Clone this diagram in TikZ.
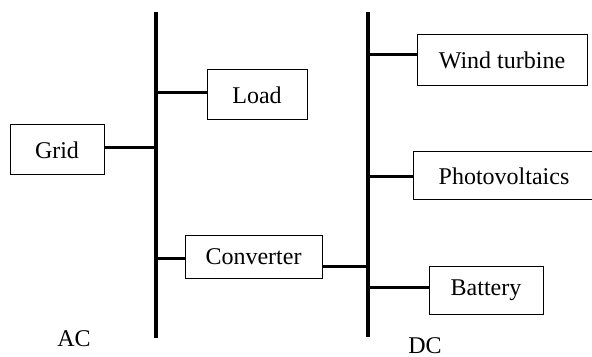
\documentclass[tikz,border=0pt]{standalone}
\usepackage{fontspec}
\setmainfont{Liberation Serif}
\usetikzlibrary{positioning}

\begin{document}
\begin{tikzpicture}[
  x=0.5pt, y=-0.5pt,
  box/.style={draw, line width=0.5pt, inner sep=0pt,
              font=\fontsize{12}{14}\selectfont},
  bus/.style={line width=2pt},
  link/.style={line width=1.5pt},
  every node/.style={font=\fontsize{12}{14}\selectfont}
]
  \useasboundingbox (0,0) rectangle (592,357);

  % the two buses
  \coordinate (acTop) at (156,12);
  \coordinate (acBot) at (156,338);
  \coordinate (dcTop) at (368,12);
  \coordinate (dcBot) at (368,337);
  \draw[bus] (acTop) -- (acBot);
  \draw[bus] (dcTop) -- (dcBot);

  % AC side
  \node[box, minimum width=47pt,   minimum height=25pt]   (grid) at (57,150)     {Grid};
  \node[box, minimum width=50pt,   minimum height=25pt]   (load) at (257,95)     {Load};
  \node[box, minimum width=68.5pt, minimum height=21.5pt] (conv) at (253.5,256.5) {Converter};

  % DC side
  \node[box, minimum width=85pt, minimum height=25.5pt] (wind) at (502,60.5) {Wind turbine};
  \node[box, minimum width=91pt, minimum height=24pt]   (pv)   at (504,176)  {Photovoltaics};
  \node[box, minimum width=57pt, minimum height=24pt]   (batt) at (486,290)  {Battery};

  \draw[link] ([yshift=1pt]grid.east) coordinate (g) -- (g -| acTop);
  \draw[link] ([yshift=1pt]load.west) coordinate (l) -- (l -| acTop);
  \draw[link] ([yshift=-0.75pt]conv.west) coordinate (c1) -- (c1 -| acTop);
  \draw[link] ([yshift=-4.75pt]conv.east) coordinate (c2) -- (c2 -| dcTop);
  \draw[link] ([yshift=2.75pt]wind.west) coordinate (w) -- (w -| dcTop);
  \draw[link] ([yshift=-0.5pt]pv.west) coordinate (p) -- (p -| dcTop);
  \draw[link] ([yshift=1.5pt]batt.west) coordinate (b) -- (b -| dcTop);

  \node (ac) at (74,339) {AC};
  \node (dc) at (425,346) {DC};
\end{tikzpicture}
\end{document}
